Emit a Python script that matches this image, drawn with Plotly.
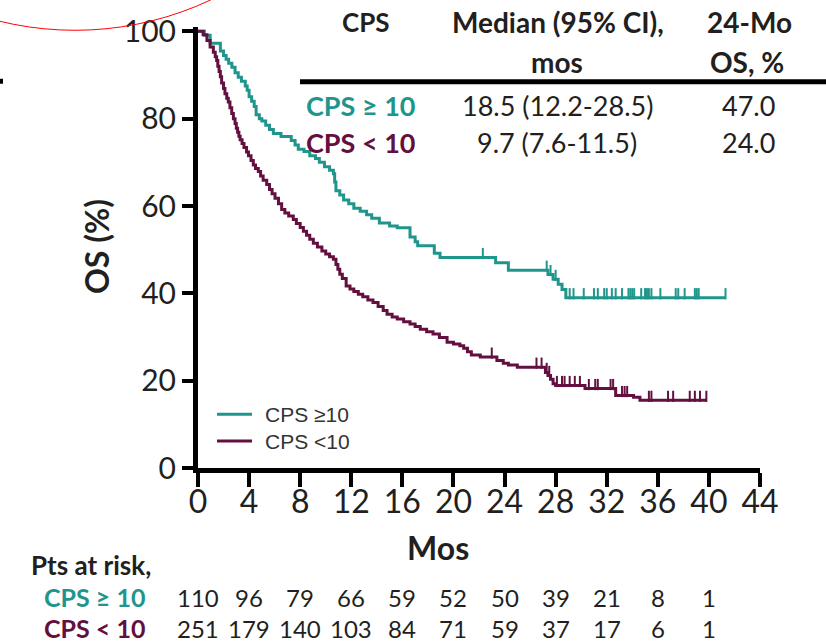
import plotly.graph_objects as go

# Kaplan-Meier overall survival by PD-L1 CPS (months, OS %)
hi_time = [0, 0.5, 0.95, 1.75, 2.0, 2.2, 2.4, 2.65, 2.9, 3.15, 3.4, 3.7, 3.85, 4.0, 4.2, 4.4, 4.55, 4.8,
           5.0, 5.3, 5.6, 5.9, 6.5, 7.3, 7.6, 7.85, 8.3, 8.75, 9.2, 9.5, 9.9, 10.3, 10.6, 10.7, 10.8,
           11.1, 11.4, 11.8, 12.2, 12.7, 13.2, 13.6, 14.2, 15.0, 15.6, 16.6, 17.0, 17.2, 18.5, 18.95,
           23.3, 24.3, 27.4, 27.8, 28.2, 28.5, 28.8]
hi_surv = [100, 99.1, 97.3, 95.5, 94.5, 93.6, 92.7, 91.8, 90.5, 89.5, 88.6, 87.5, 86.5, 85.0, 84.0, 82.8,
           80.9, 80.0, 79.5, 78.5, 77.5, 76.6, 75.9, 75.0, 74.0, 73.0, 72.5, 71.5, 70.9, 70.0, 69.0, 68.2,
           67.4, 65.5, 63.5, 62.5, 61.4, 60.5, 59.5, 58.8, 58.0, 57.2, 56.1, 55.4, 55.0, 52.9, 51.8, 50.9,
           49.2, 48.2, 47.0, 45.3, 44.3, 43.2, 42.1, 40.9, 39.0]
hi_cens = [22.3, 27.3, 27.6, 28.0, 29.1, 29.4, 30.2, 31.0, 31.3, 31.8, 32.0, 32.4, 32.7, 33.2, 33.7,
           33.85, 34.0, 34.15, 34.7, 35.0, 35.15, 35.3, 35.5, 36.2, 37.4, 37.6, 38.1, 38.9, 39.05, 39.2,
           41.3]

lo_time = [0, 0.4, 0.7, 0.95, 1.2, 1.35, 1.46, 1.55, 1.65, 1.75, 1.85, 2.0, 2.11, 2.25, 2.37, 2.5, 2.64,
           2.77, 2.9, 3.0, 3.1, 3.2, 3.3, 3.45, 3.6, 3.8, 3.95, 4.15, 4.33, 4.5, 4.72, 4.9, 5.1, 5.38,
           5.6, 5.8, 6.03, 6.3, 6.55, 6.8, 7.1, 7.46, 7.7, 8.0, 8.25, 8.5, 8.75, 9.03, 9.35, 9.7, 10.0,
           10.3, 10.6, 10.8, 10.95, 11.1, 11.3, 11.6, 11.9, 12.2, 12.55, 12.9, 13.3, 13.7, 14.1, 14.5,
           14.8, 15.2, 15.6, 16.1, 16.6, 17.0, 17.4, 17.9, 18.4, 18.9, 19.5, 20.0, 20.5, 20.8, 21.1,
           21.4, 22.1, 23.4, 23.9, 24.3, 25.0, 27.2, 27.4, 27.6, 27.8, 28.0, 30.3, 32.7, 34.1, 34.6]
lo_surv = [100, 99.2, 97.9, 96.4, 95.2, 94.2, 93.3, 92.0, 90.8, 89.6, 88.2, 86.9, 85.7, 84.7, 83.8, 82.5,
           81.2, 80.0, 78.9, 77.8, 76.9, 76.0, 75.2, 74.3, 73.4, 72.4, 71.5, 70.4, 69.4, 68.6, 67.9, 66.9,
           65.9, 64.9, 63.8, 62.8, 61.8, 60.5, 59.2, 58.4, 57.7, 56.9, 56.0, 55.1, 54.2, 53.3, 52.4, 51.5,
           50.6, 49.7, 49.0, 48.4, 47.8, 46.6, 45.5, 44.4, 43.4, 41.7, 41.0, 40.4, 39.8, 39.2, 38.5, 37.9,
           37.0, 36.1, 35.2, 34.6, 34.1, 33.5, 33.0, 32.4, 31.8, 31.2, 30.7, 29.9, 28.8, 28.4, 28.0, 27.4,
           26.6, 25.9, 25.4, 24.6, 24.0, 23.6, 23.1, 21.9, 21.2, 20.3, 19.3, 18.9, 18.2, 16.6, 16.2, 15.5]
lo_cens = [23.0, 26.5, 26.9, 27.3, 27.5, 28.1, 28.5, 28.7, 29.1, 29.5, 29.9, 30.6, 31.1, 31.3, 32.3,
           32.5, 33.2, 33.4, 33.6, 35.3, 35.5, 36.8, 37.2, 38.5, 38.9, 39.3, 39.8]

x_ticks = [0, 4, 8, 12, 16, 20, 24, 28, 32, 36, 40, 44]
y_ticks = [0, 20, 40, 60, 80, 100]

risk_months = [0, 4, 8, 12, 16, 20, 24, 28, 32, 36, 40]
hi_risk = [110, 96, 79, 66, 59, 52, 50, 39, 21, 8, 1]
lo_risk = [251, 179, 140, 103, 84, 71, 59, 37, 17, 6, 1]

table_rows = [
    ("CPS ≥ 10", "18.5 (12.2-28.5)", "47.0"),
    ("CPS &lt; 10", "9.7 (7.6-11.5)", "24.0"),
]

TEAL = "#1f958c"
PURPLE = "#631040"
TEXT = "#231f20"
FONT = "Lato, 'Open Sans', sans-serif"
LEG_FONT = "'Liberation Sans', Arial, sans-serif"

W, H = 826, 642
ML, MR, MT, MB = 198, 66, 25, 174
PW, PH = W - ML - MR, H - MT - MB


def px(xpix):
    return (xpix - ML) / PW


def py(ypix):
    return (H - MB - ypix) / PH


def surv_at(times, surv, t):
    s = surv[0]
    for ti, si in zip(times, surv):
        if ti <= t:
            s = si
    return s


fig = go.Figure()
annotations = []
shapes = []


def txt(text, x, y, size, color=TEXT, bold=False, xanchor="center", xref="paper", font=FONT, angle=0):
    annotations.append(dict(text=text, x=x, y=y, xref=xref, yref="paper", showarrow=False,
                            xanchor=xanchor, yanchor="middle", textangle=angle,
                            font=dict(family=font, size=size, color=color,
                                      weight=700 if bold else 400)))


tick_h = 8  # censor tick height in px
unit_px = PH / 101.0
groups = [("CPS ≥10", hi_time, hi_surv, hi_cens, TEAL, 414),
          ("CPS &lt;10", lo_time, lo_surv, lo_cens, PURPLE, 441)]
for name, t, s, c, col, leg_y in groups:
    xs = list(t) + [c[-1]]
    ys = list(s) + [s[-1]]
    fig.add_trace(go.Scatter(x=xs, y=ys, mode="lines", line=dict(color=col, width=3, shape="hv"),
                             name=name, showlegend=False))
    cy = [surv_at(t, s, ct) + (tick_h / 2) / unit_px for ct in c]
    fig.add_trace(go.Scatter(x=c, y=cy, mode="markers", showlegend=False, cliponaxis=False,
                             marker=dict(symbol="line-ns", size=tick_h,
                                         line=dict(color=col, width=2))))
    # legend key: short line plus label
    shapes.append(dict(type="line", xref="paper", yref="paper", x0=px(217), x1=px(252),
                       y0=py(leg_y), y1=py(leg_y), line=dict(color=col, width=3)))
    txt(name, px(263), py(leg_y), 21, color="#333333", xanchor="left", font=LEG_FONT)

# header table
txt("CPS", px(366), py(20), 26, bold=True)
txt("Median (95% CI),", px(558), py(20), 28, bold=True)
txt("mos", px(557), py(60), 28, bold=True)
txt("24-Mo", px(749), py(20), 28, bold=True)
txt("OS, %", px(747), py(60), 28, bold=True)
row_y = [104, 141]
for (lab, med, os24), yy, col in zip(table_rows, row_y, [TEAL, PURPLE]):
    txt(lab, px(361), py(yy), 27, color=col, bold=True)
    txt(med, px(557), py(yy), 27)
    txt(os24, px(748), py(yy), 27)

# axis titles
txt("OS (%)", px(96), py(246), 32, bold=True, angle=-90)
txt("Mos", px(438), py(548), 32, bold=True)

# patients at risk
txt("Pts at risk,", px(29), py(565), 26, bold=True, xanchor="left")
txt("CPS ≥ 10", px(147), py(598), 25, color=TEAL, bold=True, xanchor="right")
txt("CPS &lt; 10", px(147), py(629), 25, color=PURPLE, bold=True, xanchor="right")
for m, a, b in zip(risk_months, hi_risk, lo_risk):
    txt(str(a), m, py(598), 24, xref="x")
    txt(str(b), m, py(629), 24, xref="x")

shapes += [
    dict(type="line", xref="paper", yref="paper", x0=px(300), x1=px(826), y0=py(80), y1=py(80),
         line=dict(color="black", width=5)),
    dict(type="circle", xref="paper", yref="paper", x0=px(-242), x1=px(392), y0=py(28.3),
         y1=py(-605.7), line=dict(color="red", width=1)),
    dict(type="rect", xref="paper", yref="paper", x0=px(0), x1=px(3), y0=py(77), y1=py(82),
         fillcolor="black", line=dict(width=0)),
]

fig.update_layout(
    width=W, height=H,
    margin=dict(l=ML, r=MR, t=MT, b=MB, pad=0),
    paper_bgcolor="white", plot_bgcolor="white",
    font=dict(family=FONT, color=TEXT),
    annotations=annotations, shapes=shapes,
    showlegend=False,
)
fig.update_xaxes(range=[0, 44], tickvals=x_ticks, showline=True, linewidth=5, linecolor="black",
                 ticks="outside", ticklen=14, tickwidth=4, tickcolor="black", showgrid=False,
                 zeroline=False, ticklabelstandoff=-12,
                 tickfont=dict(family=FONT, size=32, color=TEXT))
fig.update_yaxes(range=[0, 101], tickvals=y_ticks, showline=True, linewidth=5, linecolor="black",
                 ticks="outside", ticklen=11, tickwidth=4, tickcolor="black", showgrid=False,
                 zeroline=False, tickfont=dict(family=FONT, size=30, color=TEXT))

fig.write_html("out.html")
